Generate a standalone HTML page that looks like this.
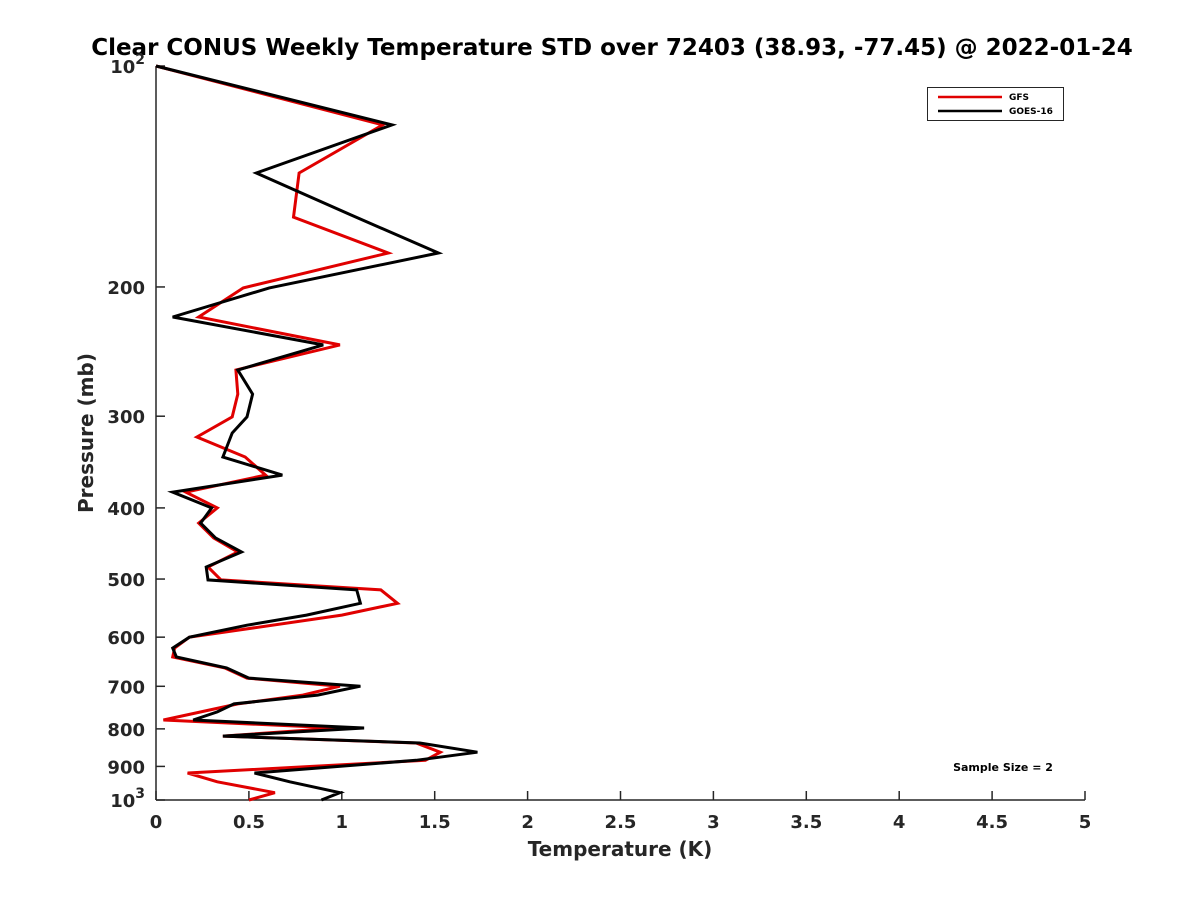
<!DOCTYPE html>
<html><head><meta charset="utf-8"><style>
html,body{margin:0;padding:0;background:#fff;}
svg{display:block;font-family:"DejaVu Sans","Liberation Sans",sans-serif;}
</style></head><body>
<svg id="chart" width="1200" height="900" viewBox="0 0 1200 900">
<text x="612" y="55" text-anchor="middle" font-size="23" font-weight="bold" fill="#000">Clear CONUS Weekly Temperature STD over 72403 (38.93, -77.45) @ 2022-01-24</text>
<g id="axes"></g>
<g id="series"></g>
<text x="620" y="856" text-anchor="middle" font-size="20" font-weight="bold" fill="#262626">Temperature (K)</text>
<text transform="translate(93,433) rotate(-90)" text-anchor="middle" font-size="20" font-weight="bold" fill="#262626">Pressure (mb)</text>
<g>
<rect x="927.5" y="87.5" width="136" height="33" fill="#fff" stroke="#262626" stroke-width="1"/>
<line x1="938" y1="97" x2="1002" y2="97" stroke="#e00000" stroke-width="2.5"/>
<text x="1009" y="100" font-size="9" font-weight="bold" fill="#000">GFS</text>
<line x1="938" y1="111" x2="1002" y2="111" stroke="#000" stroke-width="2.5"/>
<text x="1009" y="114" font-size="9" font-weight="bold" fill="#000">GOES-16</text>
</g>
<text x="1003" y="771" text-anchor="middle" font-size="11" font-weight="bold" fill="#000">Sample Size = 2</text>
</svg>
<script>
const xTicks = [0,0.5,1,1.5,2,2.5,3,3.5,4,4.5,5];
const xTickLabels = ["0","0.5","1","1.5","2","2.5","3","3.5","4","4.5","5"];
const yTicks = [100,200,300,400,500,600,700,800,900,1000];
const yTickLabels = ["10²","200","300","400","500","600","700","800","900","10³"];
const gfsP = [100,120.3,139.9,160.7,179.8,200.6,219.8,239.9,259.5,279.9,300.7,320.2,341,360.9,380.6,400,419.5,439.5,459.3,481.4,501.4,517.3,539.5,559.8,600,620.9,638.6,660.7,682.3,699.8,719.5,739.7,778.1,797.9,818.3,836.3,860.8,882.8,918.9,944.6,977.3,1000];
const gfsT = [0,1.22,0.77,0.74,1.25,0.47,0.23,0.99,0.43,0.44,0.41,0.22,0.48,0.59,0.16,0.33,0.23,0.31,0.44,0.28,0.35,1.21,1.30,1.00,0.18,0.10,0.09,0.37,0.49,0.99,0.79,0.44,0.04,0.98,0.36,1.40,1.53,1.45,0.17,0.33,0.64,0.50];
const goesP = [100,120.3,139.9,159.6,179.8,200.6,219.8,239.9,259.5,279.9,300.7,316.2,341,360.9,380.6,400,419.5,439.5,459.3,481.4,501.4,517.3,539.5,559.8,577.9,600,620.9,638.6,660.7,682.3,699.8,719.5,739.7,758.6,778.1,797.9,818.3,836.3,860.8,882.8,918.9,944.6,977.3,1000];
const goesT = [0,1.27,0.54,1.05,1.52,0.61,0.09,0.90,0.44,0.52,0.49,0.41,0.36,0.68,0.09,0.30,0.24,0.32,0.46,0.27,0.28,1.08,1.10,0.81,0.49,0.18,0.09,0.11,0.38,0.50,1.10,0.87,0.42,0.33,0.20,1.12,0.36,1.42,1.73,1.40,0.53,0.72,0.99,0.89];

const NS = "http://www.w3.org/2000/svg";
const X0 = 156, X1 = 1085, Y0 = 66, Y1 = 800;
function xs(t){ return X0 + (t - 0) / 5 * (X1 - X0); }
function ys(p){ return Y0 + (Math.log10(p) - 2) * (Y1 - Y0); }
function mk(tag, attrs){ const e = document.createElementNS(NS, tag); for (const k in attrs) e.setAttribute(k, attrs[k]); return e; }

const axes = document.getElementById('axes');
const xAxis = mk('line', {x1: X0, y1: Y1, x2: X1, y2: Y1, stroke: '#262626', 'stroke-width': 1.5});


axes.appendChild(xAxis);
const yAxis = mk('line', {x1: X0, y1: Y0, x2: X0, y2: Y1, stroke: '#262626', 'stroke-width': 1.5});


axes.appendChild(yAxis);

xTicks.forEach((t, i) => {
  const x = xs(t);
  const tk = mk('line', {x1: x, y1: Y1, x2: x, y2: Y1 - 9, stroke: '#262626', 'stroke-width': 1.5});
  
  
  axes.appendChild(tk);
  const lb = mk('text', {x: x, y: Y1 + 28, 'text-anchor': 'middle', 'font-size': 18, 'font-weight': 'bold', fill: '#262626'});
  lb.textContent = xTickLabels[i];
  
  
  axes.appendChild(lb);
});
yTicks.forEach((p, i) => {
  const y = ys(p);
  const tk = mk('line', {x1: X0, y1: y, x2: X0 + 9, y2: y, stroke: '#262626', 'stroke-width': 1.5});
  
  
  axes.appendChild(tk);
  const lb = mk('text', {x: X0 - 11, y: y + 7, 'text-anchor': 'end', 'font-size': 18, 'font-weight': 'bold', fill: '#262626'});
  const s = yTickLabels[i];
  if (s.indexOf('²') >= 0 || s.indexOf('³') >= 0) {
    lb.textContent = '10';
    const sup = mk('tspan', {dy: -9, 'font-size': 14});
    sup.textContent = s.indexOf('²') >= 0 ? '2' : '3';
    lb.appendChild(sup);
  } else {
    lb.textContent = s;
  }
  
  
  axes.appendChild(lb);
});

const series = document.getElementById('series');
function drawLine(P, T, color, name){
  const pts = P.map((p, i) => xs(T[i]).toFixed(1) + ',' + ys(p).toFixed(1)).join(' ');
  const pl = mk('polyline', {points: pts, fill: 'none', stroke: color, 'stroke-width': 3, 'stroke-linejoin': 'miter'});
  
  
  series.appendChild(pl);
}
drawLine(gfsP, gfsT, '#e00000', 'gfs-line');
drawLine(goesP, goesT, '#000000', 'goes16-line');
</script>
</body></html>
